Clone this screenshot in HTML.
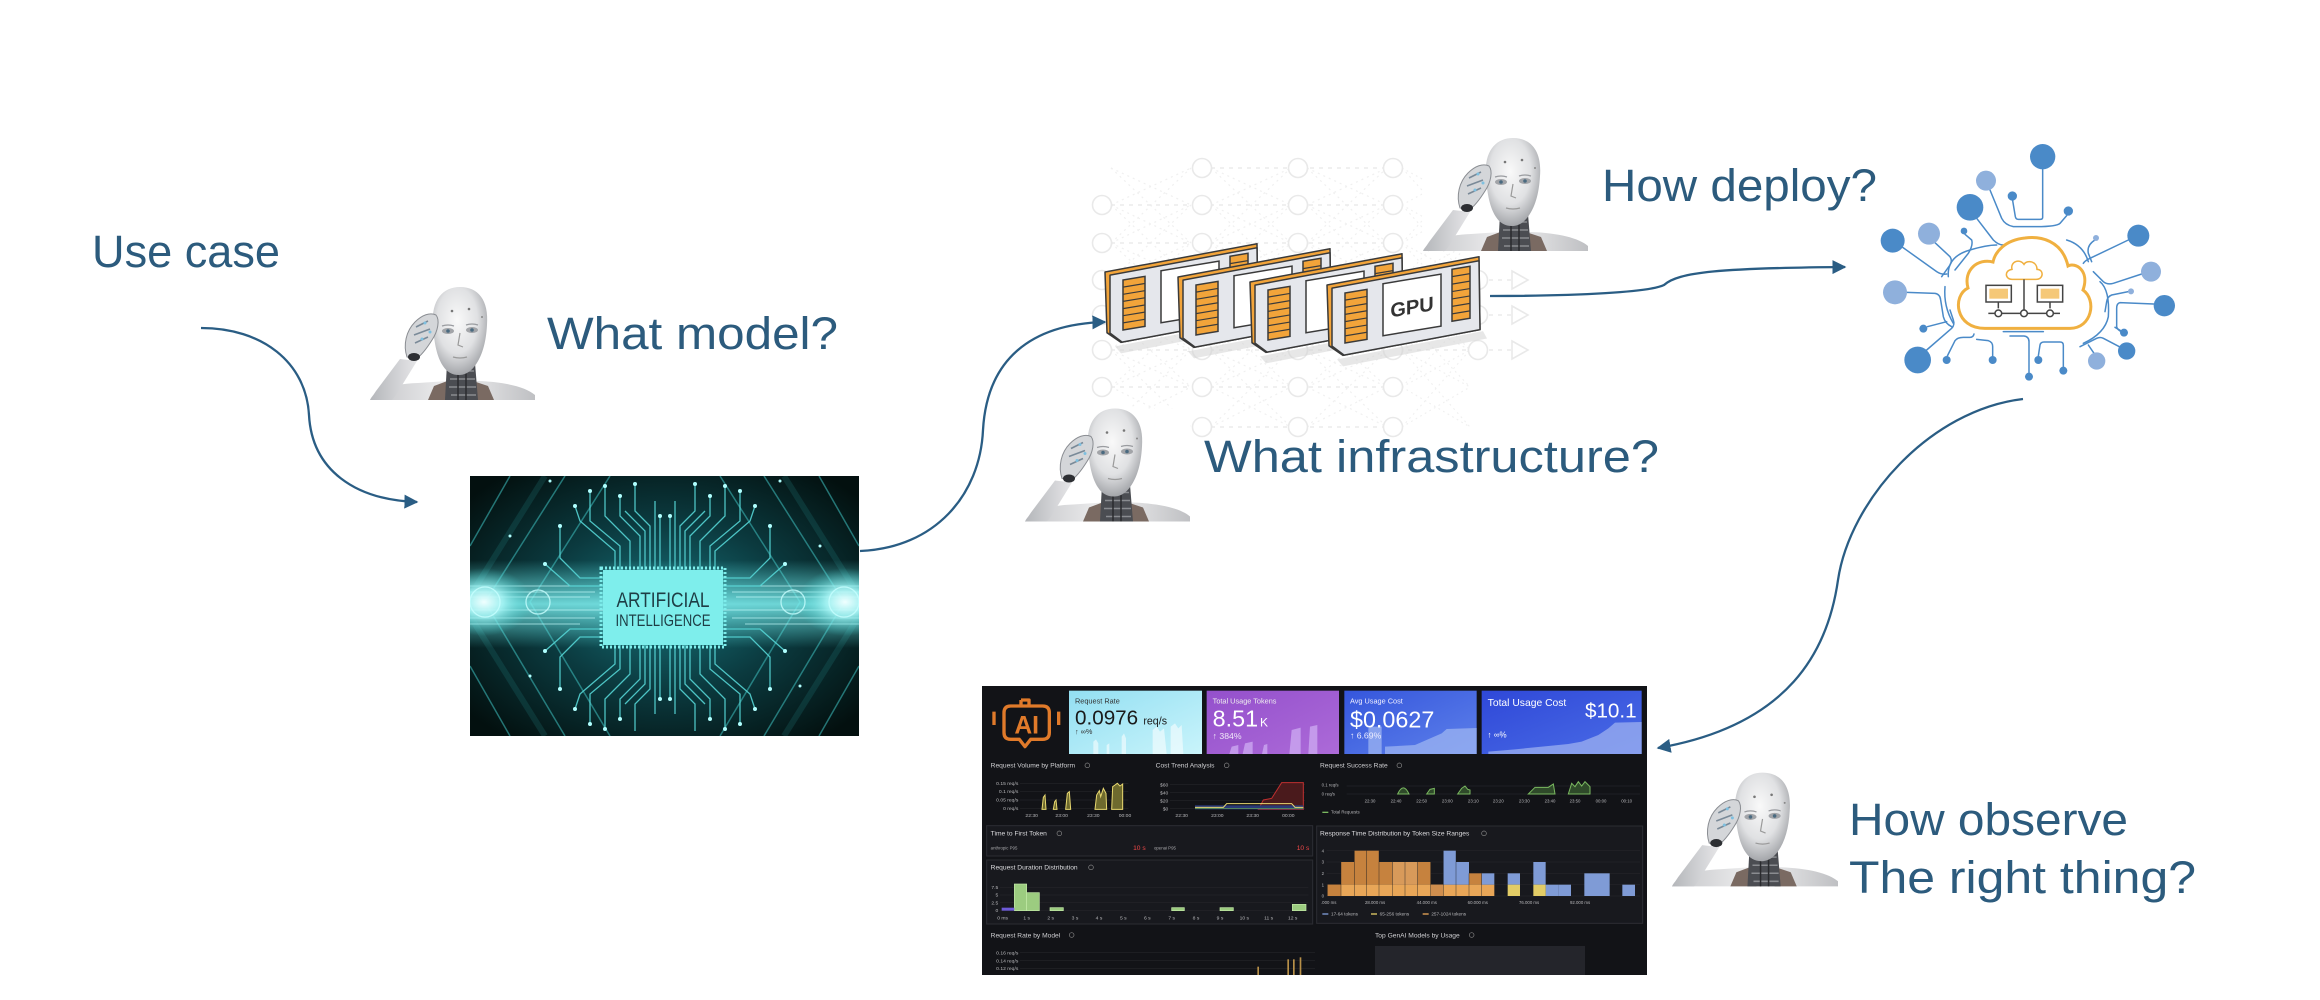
<!DOCTYPE html>
<html>
<head>
<meta charset="utf-8">
<style>
html,body{margin:0;padding:0;background:#fff;}
body{width:2320px;height:1000px;overflow:hidden;}
svg{display:block;}
.lbl{font-family:"Liberation Sans","DejaVu Sans",sans-serif;font-size:45px;fill:#2c5b7d;}
.d{font-family:"Liberation Sans","DejaVu Sans",sans-serif;}
</style>
</head>
<body>
<svg width="2320" height="1000" viewBox="0 0 2320 1000" xmlns="http://www.w3.org/2000/svg" xmlns:xlink="http://www.w3.org/1999/xlink">
<defs>
  <marker id="ah" viewBox="0 0 10 10" refX="9" refY="5" markerWidth="14" markerHeight="14" markerUnits="userSpaceOnUse" orient="auto">
    <path d="M0,0 L10,5 L0,10 Z" fill="#2a5d84"/>
  </marker>
  <clipPath id="aiclip"><rect x="0" y="0" width="389" height="260"/></clipPath>
  <radialGradient id="hd" cx="45%" cy="38%" r="62%">
    <stop offset="0" stop-color="#f9f9f9"/><stop offset="0.6" stop-color="#e0e1e3"/><stop offset="1" stop-color="#a4a6aa"/>
  </radialGradient>
  <linearGradient id="sh" x1="0" x2="1" y1="0" y2="0">
    <stop offset="0" stop-color="#c4c5c8"/><stop offset="0.5" stop-color="#f0f0f1"/><stop offset="1" stop-color="#bfc0c3"/>
  </linearGradient>
  <linearGradient id="ar" x1="0" x2="1" y1="0" y2="0">
    <stop offset="0" stop-color="#b4b6ba"/><stop offset="1" stop-color="#e6e6e8"/>
  </linearGradient>
  <linearGradient id="p1" x1="0" x2="1" y1="0" y2="1">
    <stop offset="0" stop-color="#93dff2"/><stop offset="1" stop-color="#c9f4fb"/>
  </linearGradient>
  <linearGradient id="p2" x1="0" x2="1" y1="0" y2="1">
    <stop offset="0" stop-color="#9450cc"/><stop offset="1" stop-color="#ac6ad8"/>
  </linearGradient>
  <linearGradient id="p3" x1="0" x2="1" y1="0" y2="1">
    <stop offset="0" stop-color="#3556dc"/><stop offset="1" stop-color="#5d80ea"/>
  </linearGradient>
  <linearGradient id="p4" x1="0" x2="1" y1="0" y2="1">
    <stop offset="0" stop-color="#2f48d8"/><stop offset="1" stop-color="#4a6ce6"/>
  </linearGradient>
  <radialGradient id="aiglow" cx="50%" cy="50%" r="65%">
    <stop offset="0" stop-color="#17727a"/><stop offset="0.5" stop-color="#0b3a3f"/><stop offset="1" stop-color="#03100f"/>
  </radialGradient>
  <linearGradient id="band" x1="0" x2="0" y1="0" y2="1">
    <stop offset="0" stop-color="#5fe3e3" stop-opacity="0"/>
    <stop offset="0.5" stop-color="#7ff0f0" stop-opacity="0.85"/>
    <stop offset="1" stop-color="#5fe3e3" stop-opacity="0"/>
  </linearGradient>
  <radialGradient id="endglow" cx="50%" cy="50%" r="50%">
    <stop offset="0" stop-color="#f0ffff" stop-opacity="1"/><stop offset="0.4" stop-color="#a8f6f6" stop-opacity="0.85"/><stop offset="1" stop-color="#3bc8c8" stop-opacity="0"/>
  </radialGradient>

  <symbol id="robot" viewBox="0 0 165 113">
    <rect width="165" height="113" fill="#fff"/>
    <path d="M0,113 C4,103 22,97 48,96 L78,94 L108,94 C135,95 156,100 165,108 L165,113 Z" fill="url(#sh)"/>
    <path d="M58,113 L64,99 L80,93 L84,113 Z" fill="#7a6a62"/>
    <path d="M100,93 L118,99 L124,113 L102,113 Z" fill="#7a6a62"/>
    <path d="M77,76 L105,76 L108,113 L75,113 Z" fill="#4b4d52"/>
    <path d="M80,84H104M80,92H105M79,100H106M81,108H106" stroke="#8a8c90" stroke-width="1.5"/>
    <path d="M88,78V113M96,78V113" stroke="#2a2b2e" stroke-width="1.5"/>
    <path d="M63,38 C61,13 73,0 90,0 C108,0 119,13 117,38 C116,56 112,70 104,80 C99,86 94,88 89,88 C82,88 77,85 73,79 C67,70 64,56 63,38 Z" fill="url(#hd)"/>
    <ellipse cx="78" cy="44" rx="6" ry="3" fill="#a2a4a8"/>
    <ellipse cx="102" cy="43" rx="6" ry="3" fill="#a2a4a8"/>
    <circle cx="78" cy="44" r="1.8" fill="#4a6a80"/>
    <circle cx="102" cy="43" r="1.8" fill="#4a6a80"/>
    <path d="M72,39 Q78,37 84,39 M96,38 Q102,36 108,38" stroke="#9a9ca0" stroke-width="1.2" fill="none"/>
    <path d="M90,46 L88,58 L93,60" stroke="#9a9a9a" stroke-width="1.2" fill="none"/>
    <path d="M83,70 Q90,72 97,70" stroke="#9a9a9a" stroke-width="1.2" fill="none"/>
    <circle cx="82" cy="24" r="1.3" fill="#777"/><circle cx="99" cy="22" r="1.3" fill="#777"/><circle cx="112" cy="30" r="1" fill="#888"/>
    <path d="M0,113 L6,104 L30,72 L47,74 L26,108 L22,113 Z" fill="url(#ar)"/>
    <path d="M37,70 C33,58 36,44 45,35 C52,28 60,25 66,28 C70,33 68,44 62,53 C57,61 52,68 46,72 Z" fill="#d4d6d9" stroke="#8a8d92" stroke-width="1"/>
    <path d="M46,40 L58,34 M44,48 L60,42 M45,56 L58,50" stroke="#7a8a98" stroke-width="1.6"/>
    <circle cx="55" cy="36" r="1.5" fill="#7ec0e0"/><circle cx="60" cy="45" r="1.5" fill="#7ec0e0"/><circle cx="52" cy="52" r="1.5" fill="#7ec0e0"/>
    <ellipse cx="44" cy="70" rx="6" ry="4" fill="#2d2f33"/>
  </symbol>

  <g id="card">
    <path d="M10,78 L156,74 L160,82 L16,86 Z" fill="#d4d4d4" opacity="0.55"/>
    <path d="M0,2 L152,-1 L153,72 L16,75 L2,63 Z" fill="#f2a43a" stroke="#3a3a3a" stroke-width="1.5" stroke-linejoin="round"/>
    <path d="M5,6 L152,3 L153,72 L17,75 L5,64 Z" fill="#e5e7ec" stroke="#3a3a3a" stroke-width="1.5" stroke-linejoin="round"/>
    <rect x="18" y="13" width="22" height="50" fill="#f2a43a" stroke="#3a3a3a" stroke-width="1.5"/>
    <path d="M18,20.1H40M18,27.3H40M18,34.4H40M18,41.6H40M18,48.7H40M18,55.9H40" stroke="#3a3a3a" stroke-width="1.2"/>
    <rect x="56" y="10" width="58" height="52" fill="#fff" stroke="#3a3a3a" stroke-width="1.5"/>
    <rect x="125" y="7" width="18" height="52" fill="#f2a43a" stroke="#3a3a3a" stroke-width="1.5"/>
    <path d="M125,14.4H143M125,21.9H143M125,29.3H143M125,36.7H143M125,44.1H143M125,51.6H143" stroke="#3a3a3a" stroke-width="1.2"/>
  </g>

  <path id="nd" d="M0,168L80,205M0,205L80,168M0,205L80,243M0,243L80,205M0,243L80,280M0,280L80,243M0,280L80,315M0,315L80,280M0,315L80,350M0,350L80,315M0,350L80,387M0,387L80,350M0,387L80,427M0,427L80,387M0,168L80,243M0,243L80,168M0,205L80,280M0,280L80,205M0,243L80,315M0,315L80,243M0,280L80,350M0,350L80,280M0,315L80,387M0,387L80,315M0,350L80,427M0,427L80,350" fill="none" stroke="#f0f0f0" stroke-width="1.2" stroke-dasharray="2 4"/>
</defs>

<rect width="2320" height="1000" fill="#fff"/>

<!-- ===== Network background ===== -->
<g>
  <use href="#nd" xlink:href="#nd" transform="translate(1111,0)"/>
  <use href="#nd" xlink:href="#nd" transform="translate(1211,0)"/>
  <use href="#nd" xlink:href="#nd" transform="translate(1307,0)"/>
  <use href="#nd" xlink:href="#nd" transform="translate(1402,0) scale(0.85,1)"/>
  <g stroke="#ececec" stroke-width="1.4" stroke-dasharray="4 5" fill="none">
    <path d="M1202,168H1393M1102,205H1393M1102,243H1393M1102,280H1520M1102,315H1520M1102,350H1520M1102,387H1393M1202,427H1393"/>
  </g>
  <g fill="#fff" stroke="#e9e9e9" stroke-width="1.6">
    <circle cx="1102" cy="205" r="9.5"/><circle cx="1102" cy="243" r="9.5"/><circle cx="1102" cy="280" r="9.5"/><circle cx="1102" cy="315" r="9.5"/><circle cx="1102" cy="350" r="9.5"/><circle cx="1102" cy="387" r="9.5"/>
    <circle cx="1202" cy="168" r="9.5"/><circle cx="1202" cy="205" r="9.5"/><circle cx="1202" cy="243" r="9.5"/><circle cx="1202" cy="280" r="9.5"/><circle cx="1202" cy="315" r="9.5"/><circle cx="1202" cy="350" r="9.5"/><circle cx="1202" cy="387" r="9.5"/><circle cx="1202" cy="427" r="9.5"/>
    <circle cx="1298" cy="168" r="9.5"/><circle cx="1298" cy="205" r="9.5"/><circle cx="1298" cy="243" r="9.5"/><circle cx="1298" cy="280" r="9.5"/><circle cx="1298" cy="315" r="9.5"/><circle cx="1298" cy="350" r="9.5"/><circle cx="1298" cy="387" r="9.5"/><circle cx="1298" cy="427" r="9.5"/>
    <circle cx="1393" cy="168" r="9.5"/><circle cx="1393" cy="205" r="9.5"/><circle cx="1393" cy="243" r="9.5"/><circle cx="1393" cy="280" r="9.5"/><circle cx="1393" cy="315" r="9.5"/><circle cx="1393" cy="350" r="9.5"/><circle cx="1393" cy="387" r="9.5"/><circle cx="1393" cy="427" r="9.5"/>
    <circle cx="1478" cy="280" r="9.5"/><circle cx="1478" cy="315" r="9.5"/><circle cx="1478" cy="350" r="9.5"/>
    <path d="M1512,271 L1528,280 L1512,289 Z M1512,306 L1528,315 L1512,324 Z M1512,341 L1528,350 L1512,359 Z"/>
  </g>
</g>

<!-- ===== Robots ===== -->
<use href="#robot" xlink:href="#robot" x="370" y="287" width="165" height="113"/>
<use href="#robot" xlink:href="#robot" x="1423" y="138" width="165" height="113"/>
<use href="#robot" xlink:href="#robot" x="1025" y="408" width="165" height="114"/>
<use href="#robot" xlink:href="#robot" x="1672" y="772" width="166" height="115"/>

<!-- ===== GPU cards ===== -->
<use href="#card" xlink:href="#card" transform="matrix(1,-0.166,0,1,1105,270)"/>
<use href="#card" xlink:href="#card" transform="matrix(1,-0.166,0,1,1178,275)"/>
<use href="#card" xlink:href="#card" transform="matrix(1,-0.166,0,1,1250,280)"/>
<use href="#card" xlink:href="#card" transform="matrix(1,-0.166,0,1,1327,283)"/>
<g transform="matrix(1,-0.166,0,1,1327,283)">
  <text x="85" y="45" text-anchor="middle" class="d" font-size="20" font-weight="bold" fill="#333">GPU</text>
</g>

<!-- ===== AI image ===== -->
<g transform="translate(470,476)">
 <g clip-path="url(#aiclip)">
  <rect width="389" height="260" fill="url(#aiglow)"/>
  <g stroke="#3ab4b4" stroke-width="1.5" fill="none" opacity="0.6">
    <path d="M95,0 L15,126 L95,260 M294,0 L374,126 L294,260 M140,0 L60,126 L140,260 M250,0 L330,126 L250,260"/>
    <path d="M40,0 L0,70 M349,0 L389,70 M40,260 L0,190 M349,260 L389,190"/>
  </g>
  <g stroke="#2e9a9a" stroke-width="6" fill="none" opacity="0.18">
    <path d="M75,0 L0,120 M314,0 L389,120 M75,260 L0,140 M314,260 L389,140"/>
  </g>
  <rect x="0" y="84" width="389" height="88" fill="url(#band)"/>
  <g stroke="#c8ffff" stroke-width="1" opacity="0.65">
    <path d="M0,110H133M0,116H125M0,121H120M0,134H133M0,142H125M0,148H110M253,110H389M262,116H389M266,121H389M253,134H389M262,142H389M275,148H389"/>
  </g>
  <g stroke="#55d4d4" stroke-width="1.3" fill="none" opacity="0.9">
    <path d="M150,94 L150,70 L120,45 L120,15 M160,94 L160,65 L135,40 L135,10 M170,94 L170,60 L150,40 L150,20 M180,94 L180,50 L165,35 L165,8 M190,94 L190,40 M200,94 L200,40 M210,94 L210,50 L225,35 L225,8 M220,94 L220,60 L240,40 L240,20 M230,94 L230,65 L255,40 L255,10 M240,94 L240,70 L270,45 L270,15 M133,102 L110,102 L90,82 L90,50 M133,110 L100,110 L75,88 M253,102 L280,102 L300,82 L300,50 M253,110 L290,110 L315,88"/>
    <path d="M145,94 L145,75 L110,45 L105,30 M245,94 L245,75 L280,45 L285,30 M175,94 L175,55 L155,35 M215,94 L215,55 L235,35 M185,94 L185,25 M205,94 L205,25"/>
    <path d="M150,169 L150,193 L120,218 L120,248 M160,169 L160,198 L135,223 L135,253 M170,169 L170,203 L150,223 L150,243 M180,169 L180,213 L165,228 L165,255 M190,169 L190,223 M200,169 L200,223 M210,169 L210,213 L225,228 L225,255 M220,169 L220,203 L240,223 L240,243 M230,169 L230,198 L255,223 L255,253 M240,169 L240,193 L270,218 L270,248 M133,161 L110,161 L90,181 L90,213 M133,153 L100,153 L75,175 M253,161 L280,161 L300,181 L300,213 M253,153 L290,153 L315,175"/>
    <path d="M145,169 L145,188 L110,218 L105,233 M245,169 L245,188 L280,218 L285,233 M175,169 L175,208 L155,228 M215,169 L215,208 L235,228 M185,169 L185,238 M205,169 L205,238"/>
  </g>
  <g fill="#b0ffff">
    <circle cx="120" cy="15" r="2"/><circle cx="135" cy="10" r="2"/><circle cx="150" cy="20" r="2"/><circle cx="165" cy="8" r="2"/><circle cx="190" cy="40" r="2"/><circle cx="200" cy="40" r="2"/><circle cx="225" cy="8" r="2"/><circle cx="240" cy="20" r="2"/><circle cx="255" cy="10" r="2"/><circle cx="270" cy="15" r="2"/>
    <circle cx="120" cy="248" r="2"/><circle cx="135" cy="253" r="2"/><circle cx="150" cy="243" r="2"/><circle cx="190" cy="223" r="2"/><circle cx="200" cy="223" r="2"/><circle cx="240" cy="243" r="2"/><circle cx="255" cy="253" r="2"/><circle cx="270" cy="248" r="2"/>
    <circle cx="90" cy="50" r="2"/><circle cx="300" cy="50" r="2"/><circle cx="90" cy="213" r="2"/><circle cx="300" cy="213" r="2"/><circle cx="75" cy="88" r="2"/><circle cx="315" cy="88" r="2"/><circle cx="75" cy="175" r="2"/><circle cx="315" cy="175" r="2"/>
    <circle cx="40" cy="60" r="1.5"/><circle cx="350" cy="70" r="1.5"/><circle cx="60" cy="200" r="1.5"/><circle cx="330" cy="210" r="1.5"/><circle cx="80" cy="5" r="1.5"/><circle cx="310" cy="5" r="1.5"/>
    <circle cx="105" cy="30" r="2"/><circle cx="285" cy="30" r="2"/><circle cx="105" cy="233" r="2"/><circle cx="285" cy="233" r="2"/>
  </g>
  <ellipse cx="14" cy="126" rx="48" ry="34" fill="url(#endglow)"/>
  <ellipse cx="375" cy="126" rx="48" ry="34" fill="url(#endglow)"/>
  <g fill="none" stroke="#c8ffff" stroke-width="1.3" opacity="0.8">
    <circle cx="15" cy="126" r="15"/><circle cx="374" cy="126" r="15"/><circle cx="68" cy="126" r="12"/><circle cx="323" cy="126" r="12"/>
  </g>
  <rect x="133" y="94" width="120" height="75" fill="#7eeeec"/>
  <rect x="131" y="92" width="124" height="79" fill="none" stroke="#7eeeec" stroke-width="3" stroke-dasharray="2 2"/>
  <text x="193" y="131" text-anchor="middle" class="d" font-size="21" fill="#1e3d45" textLength="93" lengthAdjust="spacingAndGlyphs">ARTIFICIAL</text>
  <text x="193" y="150" text-anchor="middle" class="d" font-size="17" fill="#1e3d45" textLength="95" lengthAdjust="spacingAndGlyphs">INTELLIGENCE</text>
 </g>
</g>

<!-- ===== Cloud icon ===== -->
<g transform="translate(1870,130) scale(0.333333)">
  <g fill="none" stroke="#4a8ac8" stroke-width="4.5" stroke-linecap="round" stroke-linejoin="round">
    <path d="M518,118 L518,262 Q518,268 510,268 L445,268 Q438,268 436,260 L428,212"/>
    <path d="M360,180 L395,265 Q405,285 430,290 L500,290 Q560,290 570,280 L590,257"/>
    <path d="M320,265 L370,330 Q385,345 400,345"/>
    <path d="M98,352 L200,425 Q215,435 230,432"/>
    <path d="M195,338 L240,380 Q248,392 240,405 L215,440"/>
    <path d="M285,313 L305,330 Q310,345 295,370 L255,420"/>
    <path d="M775,330 L660,385 Q645,392 640,400"/>
    <path d="M675,330 Q650,345 655,370 L665,395"/>
    <path d="M815,432 L730,460 Q712,465 700,455 L670,425"/>
    <path d="M775,485 L725,495 Q712,500 710,515 L705,545"/>
    <path d="M851,522 L750,518 Q740,520 740,535 L740,590 Q742,600 755,605"/>
    <path d="M748,650 L700,625 Q690,620 680,625 L630,650"/>
    <path d="M672,670 L655,645"/>
    <path d="M752,602 L735,592"/>
    <path d="M170,660 L245,595 Q255,585 250,570 L240,540"/>
    <path d="M172,590 L230,575"/>
    <path d="M232,678 L255,632 Q262,622 280,622 L300,622 Q310,622 312,612"/>
    <path d="M368,678 L368,650 Q368,636 355,632 L320,628"/>
    <path d="M505,678 L510,645 Q512,636 522,636 L570,636 Q580,636 580,646 L580,710"/>
    <path d="M477,728 L477,635 Q477,620 462,618 L420,618"/>
    <path d="M111,487 L195,490 Q210,492 212,510 L220,560 Q225,580 245,590"/>
    <path d="M235,440 Q230,380 300,360 Q350,345 380,345"/>
    <path d="M225,470 Q220,530 250,580"/>
    <path d="M590,330 Q640,345 655,395"/>
    <path d="M690,455 Q720,480 715,560 Q705,610 640,640"/>
    <path d="M400,605 L520,605"/>
  </g>
  <g fill="#4a8ac8">
    <circle cx="518" cy="80" r="38"/><circle cx="427" cy="198" r="14"/><circle cx="300" cy="232" r="40"/><circle cx="595" cy="243" r="14"/>
    <circle cx="68" cy="332" r="36"/><circle cx="282" cy="303" r="10"/><circle cx="805" cy="317" r="33"/><circle cx="883" cy="527" r="32"/>
    <circle cx="160" cy="596" r="12"/><circle cx="762" cy="608" r="12"/><circle cx="143" cy="690" r="40"/><circle cx="230" cy="690" r="12"/>
    <circle cx="368" cy="690" r="12"/><circle cx="505" cy="690" r="12"/><circle cx="770" cy="663" r="26"/><circle cx="477" cy="740" r="12"/><circle cx="580" cy="722" r="12"/>
  </g>
  <g fill="#8fb0dc">
    <circle cx="348" cy="152" r="30"/><circle cx="177" cy="311" r="33"/><circle cx="678" cy="324" r="9"/><circle cx="843" cy="425" r="30"/>
    <circle cx="75" cy="487" r="36"/><circle cx="783" cy="484" r="9"/><circle cx="680" cy="693" r="26"/>
  </g>
  <path d="M345,595 L600,595 C666,595 681,510 639,480 C660,420 615,396 594,408 C576,330 510,318 465,324 C405,330 375,366 369,396 C324,384 279,420 294,474 C246,498 255,595 345,595 Z" fill="#fff" stroke="#f0b040" stroke-width="9"/>
  <path d="M426,448 L498,448 C522,448 522,418 501,418 C501,394 471,388 462,403 C450,385 420,394 426,418 C402,421 405,448 426,448 Z" fill="none" stroke="#f0b040" stroke-width="4.5"/>
  <g stroke="#444" stroke-width="4.5" fill="none">
    <path d="M462,448 L462,550 M355,550 L570,550 M385,515 L385,535 M540,515 L540,535"/>
    <rect x="348" y="466" width="76" height="50" fill="#fff"/>
    <rect x="502" y="466" width="76" height="50" fill="#fff"/>
  </g>
  <rect x="358" y="476" width="56" height="30" fill="#f5c878"/>
  <rect x="512" y="476" width="56" height="30" fill="#f5c878"/>
  <g fill="#fff" stroke="#444" stroke-width="4.5">
    <circle cx="385" cy="550" r="10"/><circle cx="462" cy="550" r="10"/><circle cx="540" cy="550" r="10"/>
  </g>
</g>

<!-- ===== Dashboard ===== -->
<rect x="982" y="686" width="665" height="289" fill="#121317"/>
<g transform="translate(980,680) scale(0.333333)" class="d">
  <!-- AI logo -->
  <g fill="none" stroke="#e07a2a" stroke-width="10" stroke-linejoin="round">
    <path d="M92,78 L188,78 Q208,78 208,98 L208,158 Q208,178 188,178 L152,178 L135,200 L118,178 L92,178 Q72,178 72,158 L72,98 Q72,78 92,78 Z"/>
    <path d="M123,60 L147,60 L147,76 M123,60 L123,76"/>
    <path d="M42,95 L42,135 M236,95 L236,135"/>
  </g>
  <text x="140" y="160" text-anchor="middle" font-size="74" font-weight="bold" fill="#e07a2a">AI</text>

  <!-- Panel 1 -->
  <rect x="267" y="32" width="399" height="190" fill="url(#p1)"/>
  <path d="M340,222V185L348,178L355,190V222Z M380,222V195L388,190V222Z M425,222V170L432,160L438,175V222Z M518,222V150L530,140L540,155L552,145L560,222Z M572,222V140L585,130L595,145L605,135L610,222Z" fill="#fff" opacity="0.55"/>
  <text x="285" y="70" font-size="22" fill="#333">Request Rate</text>
  <text x="285" y="133" font-size="62" fill="#1a1a1a">0.0976</text>
  <text x="490" y="133" font-size="32" fill="#1a1a1a">req/s</text>
  <text x="285" y="162" font-size="22" fill="#333">↑ ∞%</text>

  <!-- Panel 2 -->
  <rect x="680" y="32" width="397" height="190" fill="url(#p2)"/>
  <path d="M748,222L755,200L775,195V222Z M788,222L795,190L818,185V222Z M846,222L852,195L862,192V222Z M928,222L935,150L962,143V222Z M985,222L990,140L1012,135V222Z" fill="#c9a3ee" opacity="0.85"/>
  <text x="698" y="70" font-size="22" fill="#eee">Total Usage Tokens</text>
  <text x="698" y="140" font-size="70" fill="#fff">8.51</text>
  <text x="840" y="140" font-size="36" fill="#fff">K</text>
  <text x="698" y="177" font-size="26" fill="#f0e8f8">↑ 384%</text>

  <!-- Row 2 left -->
  <text x="32" y="263" font-size="20" fill="#cfcfd2">Request Volume by Platform</text>
  <circle cx="322" cy="256" r="7" fill="none" stroke="#888" stroke-width="2"/>
  <g stroke="#24252a" stroke-width="2"><path d="M120,310H445M120,335H445M120,360H445M120,385H445"/></g>
  <g font-size="15" fill="#b8b8bb" text-anchor="end">
    <text x="115" y="315">0.15 req/s</text><text x="115" y="339">0.1 req/s</text><text x="115" y="364">0.05 req/s</text><text x="115" y="390">0 req/s</text>
  </g>
  <g font-size="15" fill="#b8b8bb" text-anchor="middle">
    <text x="155" y="411">22:30</text><text x="245" y="411">23:00</text><text x="340" y="411">23:30</text><text x="435" y="411">00:00</text>
  </g>
  <path d="M186,388 L190,352 L195,345 L198,388 Z M220,388 L224,365 L228,360 L231,388 Z M257,388 L262,340 L268,335 L272,388 Z M345,388 L350,345 L358,332 L362,350 L370,325 L378,340 L380,388 Z M395,388 L398,320 L405,315 L412,310 L420,318 L428,312 L428,388 Z" fill="#6e6a2e" stroke="#e8d870" stroke-width="3"/>

  <text x="527" y="263" font-size="20" fill="#cfcfd2">Cost Trend Analysis</text>
  <circle cx="740" cy="256" r="7" fill="none" stroke="#888" stroke-width="2"/>
  <g stroke="#24252a" stroke-width="2"><path d="M570,314H975M570,338H975M570,362H975M570,386H975"/></g>
  <g font-size="15" fill="#b8b8bb" text-anchor="end">
    <text x="565" y="319">$60</text><text x="565" y="343">$40</text><text x="565" y="367">$20</text><text x="565" y="391">$0</text>
  </g>
  <path d="M835,388 L850,360 L875,355 L905,308 L970,308 L970,388 Z" fill="#4a1a1c" stroke="#c03030" stroke-width="3"/>
  <rect x="645" y="376" width="325" height="12" fill="#2a3a78"/>
  <path d="M645,382 L730,382 L740,371 L935,371 L945,382 L970,382" fill="none" stroke="#e8d870" stroke-width="3"/>
  <path d="M645,386 L970,386" stroke="#6ab050" stroke-width="2"/>
  <g font-size="15" fill="#b8b8bb" text-anchor="middle">
    <text x="605" y="411">22:30</text><text x="712" y="411">23:00</text><text x="818" y="411">23:30</text><text x="925" y="411">00:00</text>
  </g>

  <!-- Time to first token -->
  <rect x="20" y="437" width="978" height="91" fill="#18191e" stroke="#2c2d33" stroke-width="3"/>
  <text x="32" y="467" font-size="20" fill="#dcdcdf">Time to First Token</text>
  <circle cx="238" cy="460" r="7" fill="none" stroke="#888" stroke-width="2"/>
  <text x="32" y="509" font-size="13" fill="#a8a8ab">anthropic P95</text>
  <text x="497" y="510" font-size="20" fill="#f04848" text-anchor="end">10 s</text>
  <text x="522" y="509" font-size="13" fill="#a8a8ab">openai P95</text>
  <text x="988" y="510" font-size="20" fill="#f04848" text-anchor="end">10 s</text>

  <!-- Request duration distribution -->
  <rect x="20" y="540" width="978" height="192" fill="#18191e" stroke="#2c2d33" stroke-width="3"/>
  <text x="32" y="569" font-size="20" fill="#dcdcdf">Request Duration Distribution</text>
  <circle cx="333" cy="562" r="7" fill="none" stroke="#888" stroke-width="2"/>
  <g stroke="#24252a" stroke-width="2"><path d="M60,622H985M60,645H985M60,668H985M60,692H985"/></g>
  <g font-size="15" fill="#b8b8bb" text-anchor="end">
    <text x="55" y="627">7.5</text><text x="55" y="650">5</text><text x="55" y="673">2.5</text><text x="55" y="696">0</text>
  </g>
  <g fill="#9ccc80" stroke="#c4eaa8" stroke-width="2">
    <rect x="103" y="612" width="37" height="80"/><rect x="140" y="638" width="38" height="54"/>
    <rect x="210" y="683" width="40" height="9"/><rect x="575" y="683" width="38" height="9"/>
    <rect x="720" y="683" width="40" height="9"/><rect x="937" y="673" width="41" height="19"/>
  </g>
  <rect x="65" y="683" width="38" height="9" fill="#6d5ad8"/>
  <g font-size="15" fill="#b8b8bb" text-anchor="middle">
    <text x="68" y="718">0 ms</text><text x="140" y="718">1 s</text><text x="212" y="718">2 s</text><text x="285" y="718">3 s</text><text x="357" y="718">4 s</text><text x="430" y="718">5 s</text><text x="502" y="718">6 s</text><text x="575" y="718">7 s</text><text x="648" y="718">8 s</text><text x="720" y="718">9 s</text><text x="793" y="718">10 s</text><text x="866" y="718">11 s</text><text x="938" y="718">12 s</text>
  </g>

  <!-- Request rate by model -->
  <text x="32" y="772" font-size="20" fill="#cfcfd2">Request Rate by Model</text>
  <circle cx="275" cy="765" r="7" fill="none" stroke="#888" stroke-width="2"/>
  <g stroke="#24252a" stroke-width="2"><path d="M120,818H1005M120,842H1005M120,865H1005"/></g>
  <g font-size="15" fill="#b8b8bb" text-anchor="end">
    <text x="115" y="823">0.16 req/s</text><text x="115" y="847">0.14 req/s</text><text x="115" y="870">0.12 req/s</text>
  </g>
  <g fill="#b89048">
    <rect x="832" y="860" width="5" height="25"/><rect x="922" y="838" width="5" height="47"/><rect x="939" y="838" width="5" height="47"/><rect x="959" y="832" width="5" height="53"/>
  </g>
</g>

<g transform="translate(1315,680) scale(0.333333)" class="d">
  <!-- Panel 3 -->
  <rect x="88" y="32" width="397" height="190" fill="url(#p3)"/>
  <path d="M160,222V145L168,140L200,140V222Z M210,222V200L300,195L380,160L395,147L485,144V222Z" fill="#9cb4f2" opacity="0.75"/>
  <text x="105" y="70" font-size="22" fill="#eef">Avg Usage Cost</text>
  <text x="105" y="142" font-size="70" fill="#fff">$0.0627</text>
  <text x="105" y="175" font-size="26" fill="#eef">↑ 6.69%</text>

  <!-- Panel 4 -->
  <rect x="500" y="32" width="480" height="190" fill="url(#p4)"/>
  <path d="M520,222V215L600,208L700,198L760,192L800,185L850,165L880,145L900,128L980,126V222Z" fill="#9cb0f0" opacity="0.75"/>
  <text x="518" y="78" font-size="31" fill="#fff">Total Usage Cost</text>
  <text x="965" y="112" font-size="62" fill="#fff" text-anchor="end">$10.1</text>
  <text x="518" y="172" font-size="24" fill="#fff">↑ ∞%</text>

  <!-- Request success rate -->
  <text x="15" y="263" font-size="20" fill="#cfcfd2">Request Success Rate</text>
  <circle cx="253" cy="256" r="7" fill="none" stroke="#888" stroke-width="2"/>
  <g stroke="#24252a" stroke-width="2"><path d="M95,318H975M95,342H975"/></g>
  <text x="20" y="320" font-size="13" fill="#b8b8bb">0.1 req/s</text>
  <text x="20" y="346" font-size="13" fill="#b8b8bb">0 req/s</text>
  <path d="M248,342 Q265,305 282,342 Z M335,342 L345,328 L358,325 L358,342 Z M428,342 L440,325 L450,318 L458,328 L465,330 L465,342 Z M640,342 L660,322 L700,322 L715,312 L720,342 Z M760,342 L770,310 L780,320 L790,305 L800,318 L810,305 L825,320 L825,342 Z" fill="#2f4a2a" stroke="#7ab860" stroke-width="3"/>
  <g font-size="13" fill="#b8b8bb" text-anchor="middle">
    <text x="165" y="367">22:30</text><text x="243" y="367">22:40</text><text x="320" y="367">22:50</text><text x="397" y="367">23:00</text><text x="475" y="367">23:10</text><text x="550" y="367">23:20</text><text x="628" y="367">23:30</text><text x="705" y="367">23:40</text><text x="780" y="367">23:50</text><text x="858" y="367">00:00</text><text x="935" y="367">00:10</text>
  </g>
  <path d="M22,397H40" stroke="#7ab860" stroke-width="4"/>
  <text x="48" y="401" font-size="13" fill="#b8b8bb">Total Requests</text>

  <!-- Response time distribution -->
  <rect x="5" y="438" width="978" height="292" fill="#18191e" stroke="#2c2d33" stroke-width="3"/>
  <text x="15" y="467" font-size="20" fill="#dcdcdf">Response Time Distribution by Token Size Ranges</text>
  <circle cx="507" cy="460" r="7" fill="none" stroke="#888" stroke-width="2"/>
  <g stroke="#24252a" stroke-width="2"><path d="M35,512H975M35,546H975M35,580H975M35,614H975M35,648H975"/></g>
  <g font-size="13" fill="#b8b8bb">
    <text x="20" y="517">4</text><text x="20" y="551">3</text><text x="20" y="585">2</text><text x="20" y="619">1</text><text x="20" y="653">0</text>
  </g>
  <g fill="#c6823e">
    <rect x="38" y="614" width="40" height="34"/>
    <rect x="78" y="546" width="40" height="68"/>
    <rect x="118" y="512" width="37" height="102"/>
    <rect x="155" y="512" width="37" height="102"/>
    <rect x="192" y="546" width="40" height="68"/>
    <rect x="308" y="546" width="39" height="68"/>
    <rect x="462" y="580" width="38" height="34"/>
  </g>
  <g fill="#d89a5a">
    <rect x="232" y="546" width="38" height="68"/>
    <rect x="270" y="546" width="38" height="68"/>
  </g>
  <rect x="78" y="614" width="460" height="34" fill="#e8a658"/>
  <rect x="38" y="614" width="40" height="34" fill="#c6823e"/>
  <rect x="347" y="614" width="38" height="34" fill="#cf8e4e"/>
  <g fill="#7f9bd6">
    <rect x="385" y="512" width="38" height="102"/>
    <rect x="423" y="546" width="39" height="68"/>
    <rect x="500" y="580" width="38" height="34"/>
    <rect x="578" y="580" width="37" height="34"/>
    <rect x="655" y="546" width="37" height="68"/>
    <rect x="692" y="614" width="38" height="34"/>
    <rect x="730" y="614" width="38" height="34"/>
    <rect x="808" y="580" width="38" height="68"/>
    <rect x="846" y="580" width="38" height="68"/>
    <rect x="922" y="614" width="38" height="34"/>
  </g>
  <g fill="#e2cc66">
    <rect x="578" y="614" width="37" height="34"/>
    <rect x="655" y="614" width="37" height="34"/>
  </g>
  <g stroke="#18191e" stroke-width="2" fill="none" opacity="0.6">
    <path d="M78,546V648M118,512V648M155,512V648M192,512V648M232,546V648M270,546V648M308,546V648M347,546V648M385,512V648M423,512V648M462,580V648M500,580V648"/>
  </g>
  <g font-size="13" fill="#b8b8bb">
    <text x="18" y="672">.000 ms</text><text x="150" y="672">28.000 ms</text><text x="305" y="672">44.000 ms</text><text x="458" y="672">60.000 ms</text><text x="612" y="672">76.000 ms</text><text x="765" y="672">92.000 ms</text>
  </g>
  <path d="M22,702H40" stroke="#7f9bd6" stroke-width="4"/>
  <text x="48" y="706" font-size="14" fill="#b8b8bb">17-64 tokens</text>
  <path d="M168,702H186" stroke="#e2cc66" stroke-width="4"/>
  <text x="194" y="706" font-size="14" fill="#b8b8bb">65-256 tokens</text>
  <path d="M323,702H341" stroke="#e8a658" stroke-width="4"/>
  <text x="349" y="706" font-size="14" fill="#b8b8bb">257-1024 tokens</text>

  <!-- Top GenAI models -->
  <text x="180" y="772" font-size="20" fill="#cfcfd2">Top GenAI Models by Usage</text>
  <circle cx="470" cy="765" r="7" fill="none" stroke="#888" stroke-width="2"/>
  <rect x="180" y="798" width="630" height="87" fill="#24252b"/>
</g>

<!-- ===== Connectors ===== -->
<g fill="none" stroke="#2a5d84" stroke-width="2.3">
  <path d="M201,328 C262,328 306,362 309,415 C312,470 355,500 417,502" marker-end="url(#ah)"/>
  <path d="M860,551 C935,548 980,495 983,430 C987,360 1030,324 1105,322" marker-end="url(#ah)"/>
  <path d="M1490,296 C1580,296 1650,292 1664,285 C1678,272 1720,268 1845,267" marker-end="url(#ah)"/>
  <path d="M2023,399 C1930,410 1850,500 1838,580 C1828,650 1790,725 1658,748" marker-end="url(#ah)"/>
</g>

<!-- ===== Labels ===== -->
<text class="lbl" x="92" y="267" textLength="188" lengthAdjust="spacingAndGlyphs">Use case</text>
<text class="lbl" x="547" y="349" textLength="291" lengthAdjust="spacingAndGlyphs">What model?</text>
<text class="lbl" x="1602" y="201" textLength="275" lengthAdjust="spacingAndGlyphs">How deploy?</text>
<text class="lbl" x="1204" y="472" textLength="455" lengthAdjust="spacingAndGlyphs">What infrastructure?</text>
<text class="lbl" x="1849" y="835" textLength="279" lengthAdjust="spacingAndGlyphs">How observe</text>
<text class="lbl" x="1849" y="893" textLength="347" lengthAdjust="spacingAndGlyphs">The right thing?</text>
</svg>
</body>
</html>
